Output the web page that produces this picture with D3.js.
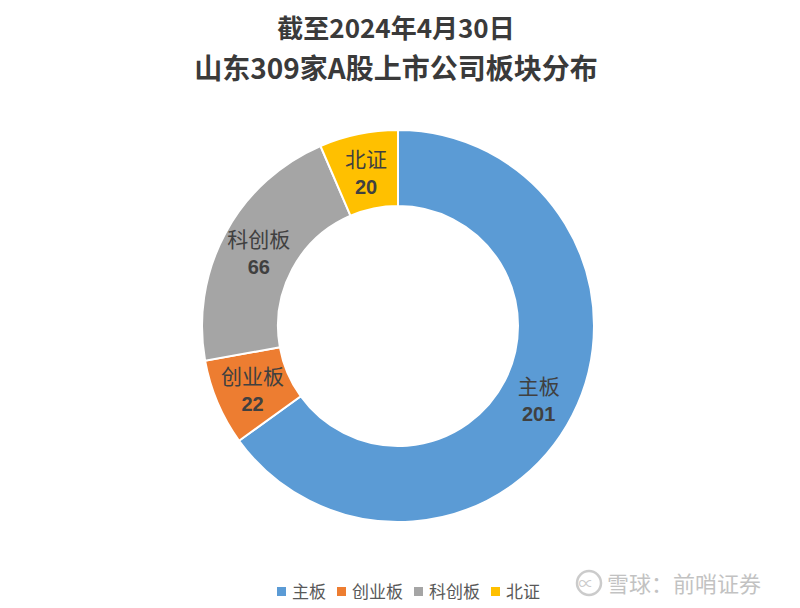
<!DOCTYPE html>
<html><head><meta charset="utf-8">
<script src="https://cdn.jsdelivr.net/npm/d3@7"></script>
<style>body{margin:0;background:#fff}svg{display:block}</style>
</head><body>
<svg id="c" width="800" height="608"></svg>
<script>
const categories = ["主板", "创业板", "科创板", "北证"];
const values = [201, 22, 66, 20];
const colors = ["#5B9BD5", "#ED7D31", "#A5A5A5", "#FFC000"];
const titleLines = ["截至2024年4月30日", "山东309家A股上市公司板块分布"];

const svg = d3.select("#c");
const cx = 398, cy = 326, rOut = 196, rIn = 120;
const font = "'Noto Sans CJK SC', 'Liberation Sans', sans-serif";

svg.append("g").selectAll("text").data(titleLines).join("text")
  .attr("x", 396).attr("y", (d,i)=> i===0 ? 38 : 79)
  .attr("text-anchor","middle").attr("font-family",font)
  .attr("font-size", (d,i)=> i===0 ? 26 : 28).attr("font-weight","bold").attr("fill","#3a3a3a")
  .text(d=>d);

const data = categories.map((c,i)=>({c, v: values[i], col: colors[i]}));
const pie = d3.pie().value(d=>d.v).sort(null);
const arc = d3.arc().innerRadius(rIn).outerRadius(rOut);
const arcs = pie(data);
const g = svg.append("g").attr("transform",`translate(${cx},${cy})`);
g.selectAll("path").data(arcs).join("path")
  .attr("d", arc).attr("fill", d=>d.data.col)
  .attr("stroke","#fff").attr("stroke-width",2);

const lab = g.selectAll("g.l").data(arcs).join("g").attr("class","l")
  .attr("transform", d=>`translate(${arc.centroid(d)})`);
lab.append("text").attr("y",-4).attr("text-anchor","middle")
  .attr("font-family",font).attr("font-size",21).attr("fill","#404040")
  .text(d=>d.data.c);
lab.append("text").attr("y",23).attr("text-anchor","middle")
  .attr("font-family","'Liberation Sans', sans-serif").attr("font-weight","bold")
  .attr("font-size",20).attr("fill","#404040")
  .text(d=>d.data.v);

// legend
const legX = [277, 337, 414, 491];
const leg = svg.append("g").selectAll("g").data(data).join("g")
  .attr("transform",(d,i)=>`translate(${legX[i]},592)`);
leg.append("rect").attr("x",0).attr("y",-5).attr("width",9).attr("height",9).attr("fill",d=>d.col);
leg.append("text").attr("x",15).attr("y",6).attr("font-family",font)
  .attr("font-size",17).attr("fill","#595959").text(d=>d.c);

// watermark
const wm = svg.append("g").attr("opacity",0.6);
wm.append("circle").attr("cx",589).attr("cy",583).attr("r",12)
  .attr("fill","none").attr("stroke","#aaa").attr("stroke-width",2.5);
wm.append("text").attr("x",586).attr("y",589).attr("text-anchor","middle")
  .attr("font-family",font).attr("font-size",15).attr("fill","#aaa").text("∝");
wm.append("text").attr("x",607).attr("y",592).attr("font-family",font)
  .attr("font-size",22).attr("fill","#9a9a9a").text("雪球：前哨证券");
</script>
</body></html>
